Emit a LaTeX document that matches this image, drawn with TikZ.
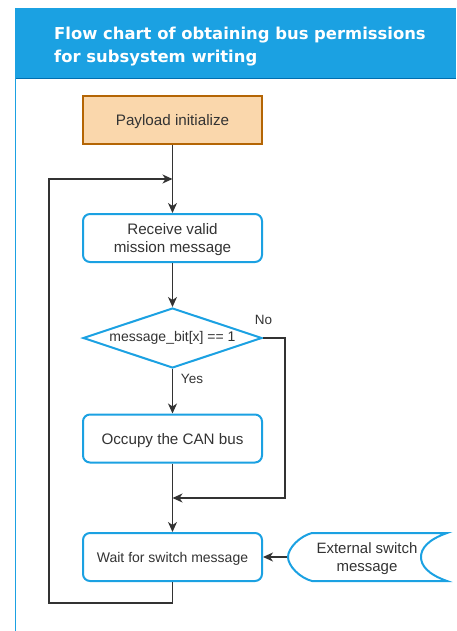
\documentclass[tikz,border=0pt]{standalone}
\usepackage{fontspec}
\setmainfont{Liberation Sans}
\newfontfamily\titlefont{DejaVu Sans}
\usetikzlibrary{shapes.geometric,arrows.meta}

\newlength{\du}
\setlength{\du}{1pt}

\definecolor{headerblue}{HTML}{1BA1E2}
\definecolor{headerline}{HTML}{006EAF}
\definecolor{boxblue}{HTML}{1BA1E2}
\definecolor{initfill}{HTML}{FAD7AC}
\definecolor{initline}{HTML}{B46504}
\definecolor{flowgray}{HTML}{333333}

\begin{document}
\begin{tikzpicture}[
  procbox/.style={draw=boxblue, line width=2\du, rounded corners=7\du, fill=white,
    minimum width=179\du, minimum height=48\du, inner sep=0pt, align=center,
    text=flowgray, font=\fontsize{15.2}{18.5}\selectfont},
  oneline/.style={text depth=0pt},
  initbox/.style={procbox, draw=initline, fill=initfill, rounded corners=0pt},
  decisionbox/.style={diamond, draw=boxblue, line width=2\du, fill=white,
    minimum width=179\du, minimum height=60\du, inner sep=0pt, shape aspect=3,
    text=flowgray, font=\fontsize{14}{17}\selectfont},
  flowlabel/.style={inner sep=0pt, text=flowgray, font=\fontsize{13.5}{16}\selectfont},
  flowline/.style={draw=flowgray, line width=1.3\du},
  >={Stealth[length=10pt,width=9pt,inset=3pt]}
]
\pgftransformyscale{-1.000000}
\useasboundingbox (0\du,0\du) rectangle (456\du,631\du);
% container
\fill[headerblue] (15\du,8\du) rectangle (456\du,79\du);
\draw[headerline, line width=1.5\du] (15\du,78.5\du) -- (456\du,78.5\du);
\draw[boxblue, line width=1.5\du] (15.5\du,8\du) -- (15.5\du,631\du);
\node[anchor=north west, align=left, inner sep=0pt, text=white,
  font=\titlefont\bfseries\fontsize{16.4}{23.5}\selectfont] (title) at (54\du,26.5\du)
  {Flow chart of obtaining bus permissions\\for subsystem writing};
% steps
\node[initbox, oneline] (init) at (172.5\du,120\du) {Payload initialize};
\node[procbox] (recv) at (172.5\du,238\du) {\rule{0pt}{14pt}Receive valid\\mission message};
\node[decisionbox] (check) at (172.5\du,338\du) {message\_bit[x] == 1};
\node[procbox, oneline] (occupy) at (172.5\du,438.5\du) {Occupy the CAN bus};
\node[procbox, oneline, font=\fontsize{14}{17}\selectfont] (wait) at (172.5\du,557\du) {Wait for switch message};
% external input
\draw[boxblue, line width=2\du] (312\du,533\du) -- (447\du,533\du)
  .. controls (427\du,540\du) and (421\du,549\du) .. (421\du,557\du)
  .. controls (421\du,565\du) and (427\du,574\du) .. (447\du,581\du)
  -- (312\du,581\du)
  .. controls (300\du,578\du) and (288\du,566\du) .. (288\du,557\du)
  .. controls (288\du,548\du) and (300\du,536\du) .. cycle;
\node[inner sep=0pt, minimum width=159\du, minimum height=48\du, align=center,
  text=flowgray, font=\fontsize{15}{18}\selectfont] (ext) at (367\du,557\du)
  {\rule{0pt}{14pt}External switch\\message};
% connectors
\coordinate (loopjoin) at (172.5\du,179\du);
\coordinate (loopbot) at (49\du,603\du);
\coordinate (noturn) at (285\du,338\du);
\coordinate (nojoin) at (172.5\du,498\du);
\draw[flowline,->] (init) -- (recv);
\draw[flowline,->] (recv) -- (check);
\draw[flowline,->] (check) -- (occupy);
\draw[flowline,->] (occupy) -- (wait);
\draw[flowline,->] (check.east) -- (noturn) |- (nojoin);
\draw[flowline,->] (wait.south) |- (loopbot) |- (loopjoin);
\draw[flowline,->] (ext.west) -- (wait.east);
\node[flowlabel] (nolabel) at (263.5\du,320\du) {No};
\node[flowlabel] (yeslabel) at (192\du,379\du) {Yes};
\end{tikzpicture}
\end{document}
